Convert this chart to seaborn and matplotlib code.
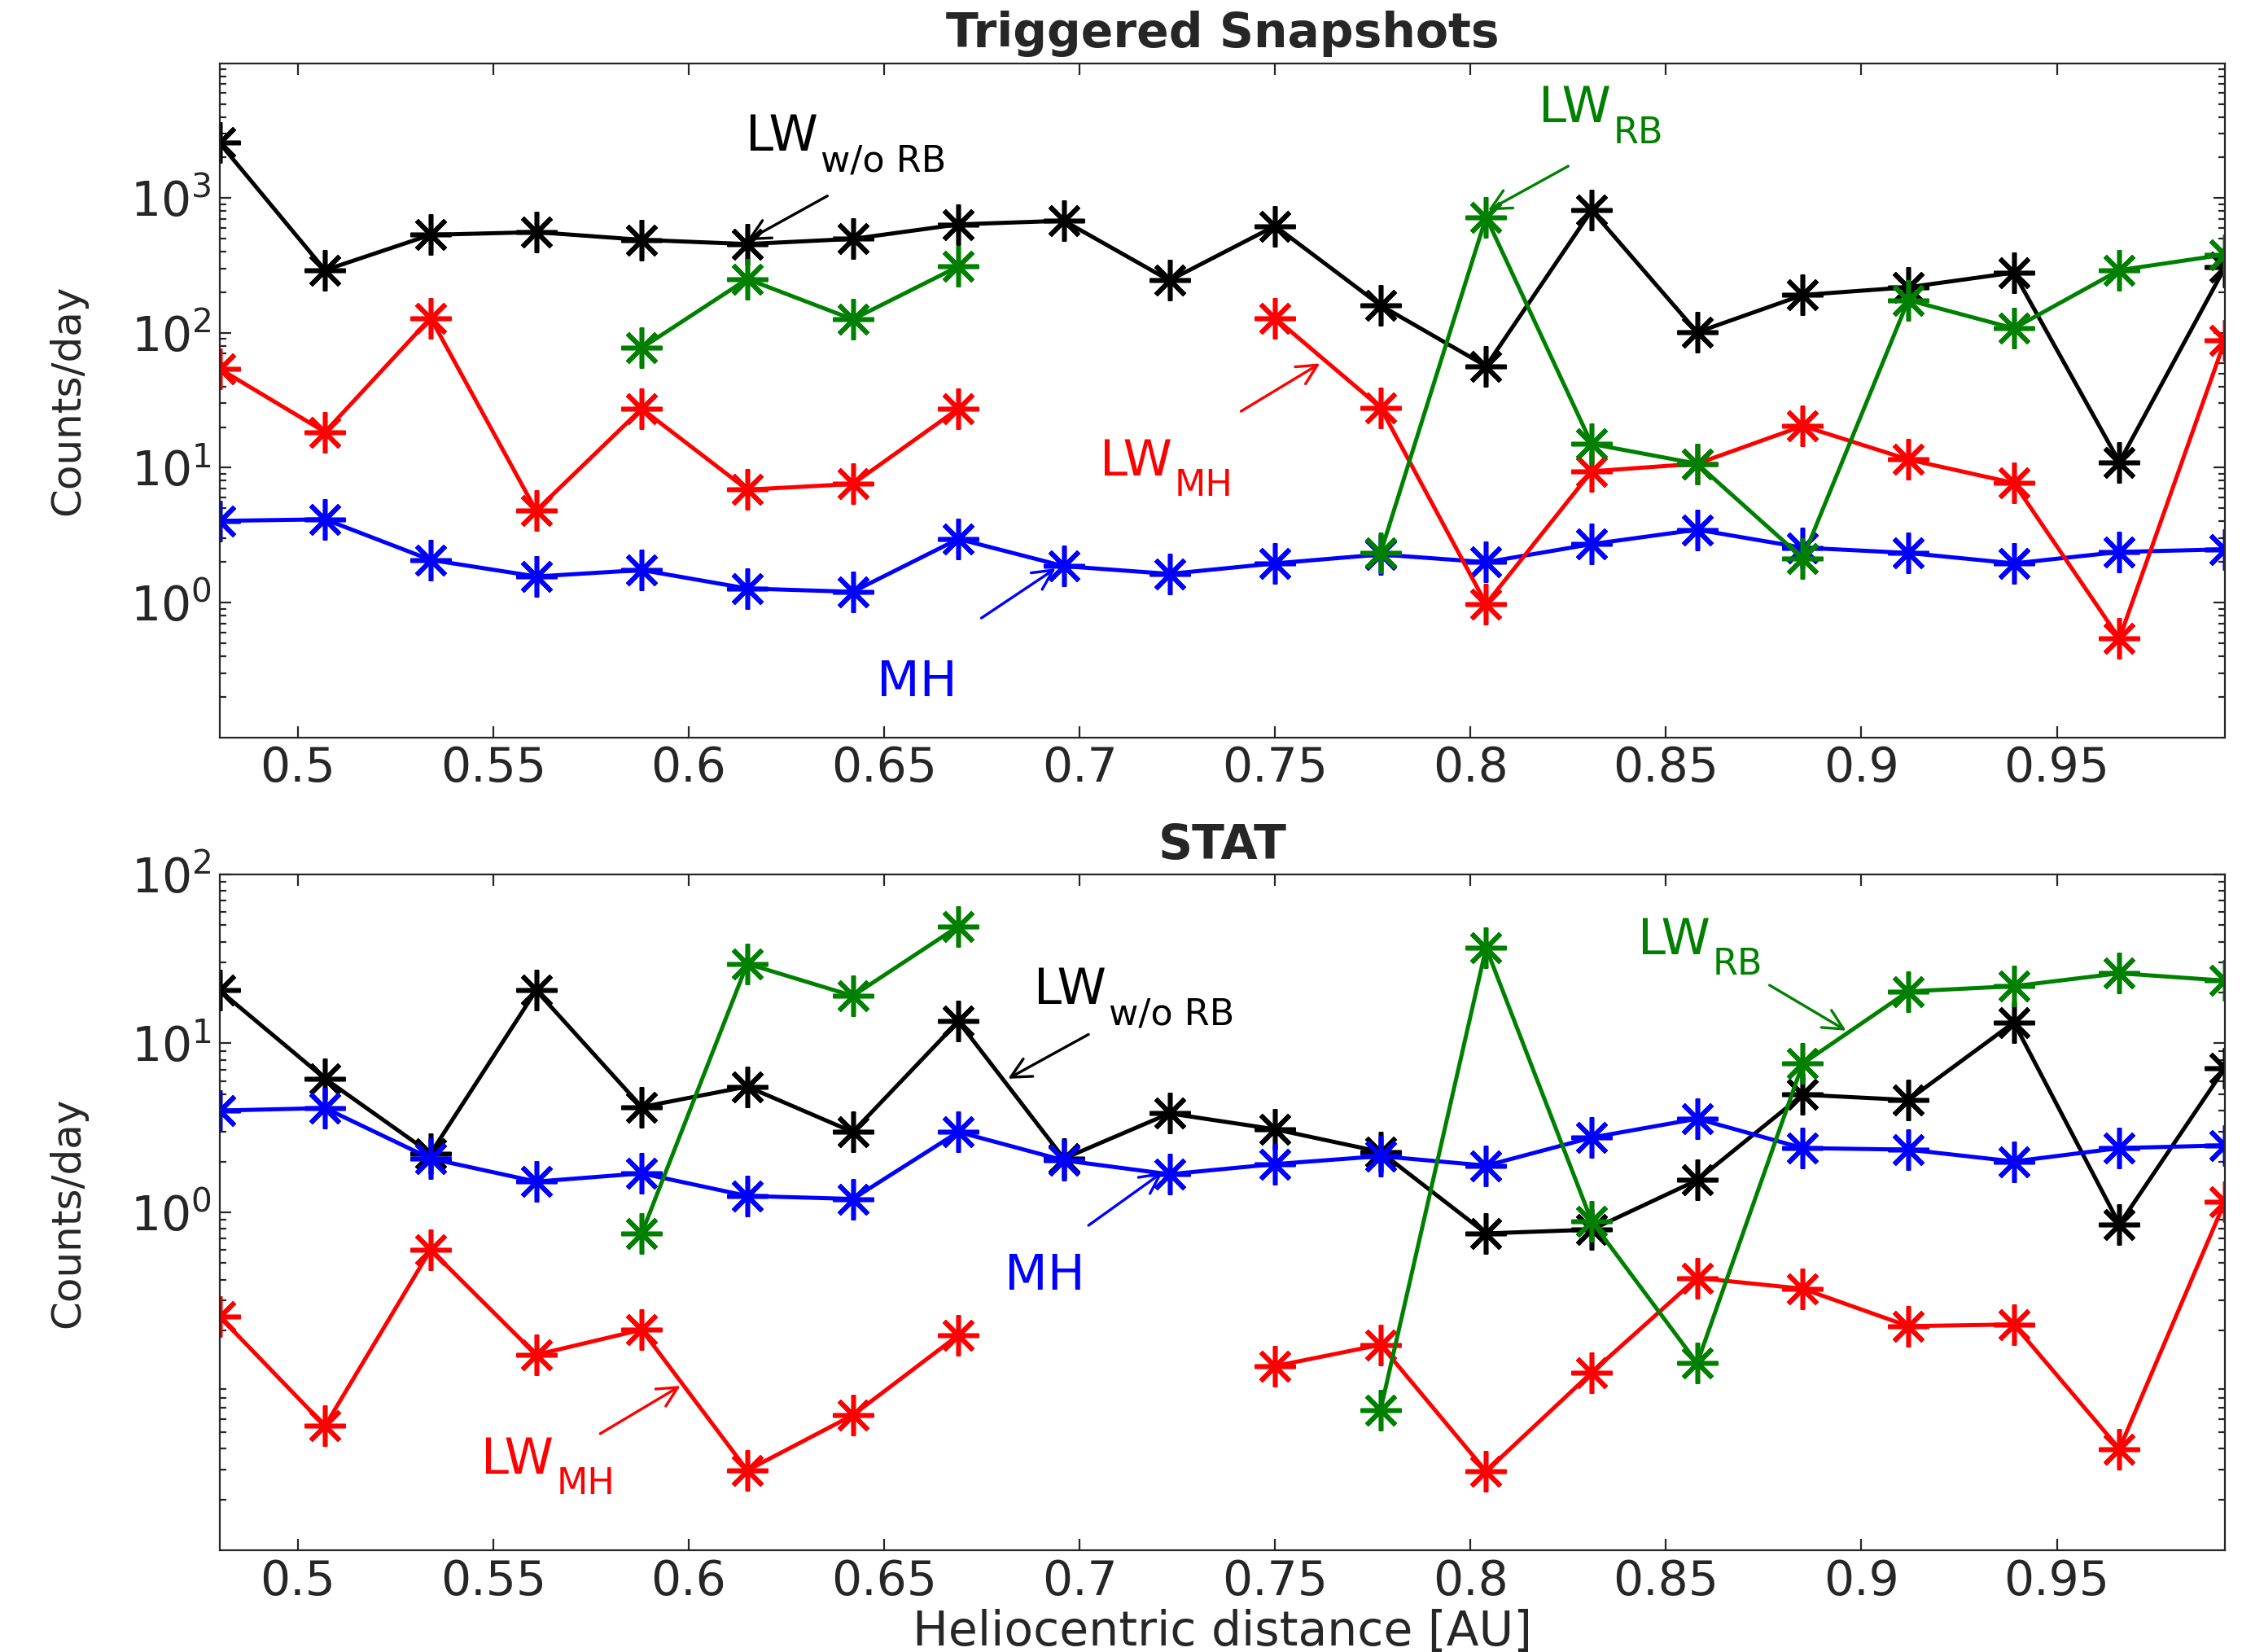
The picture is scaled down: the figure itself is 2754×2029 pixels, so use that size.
import numpy as np
import pandas as pd
import matplotlib
matplotlib.use("Agg")
import matplotlib.pyplot as plt
import seaborn as sns
from matplotlib.ticker import FormatStrFormatter, NullFormatter, NullLocator

nan = np.nan

# heliocentric distance bins [AU]
x_au = [0.480, 0.507, 0.534, 0.561, 0.588, 0.615, 0.642, 0.669, 0.696, 0.723,
        0.750, 0.777, 0.804, 0.831, 0.858, 0.885, 0.912, 0.939, 0.966, 0.993]

# Triggered Snapshots (counts/day)
trig_lw_wo_rb = [2570, 292, 534, 559, 490, 456, 498, 638, 679, 245,
                 621, 160, 56.7, 811, 101, 191, 218, 280, 11.0, 306]
trig_mh = [4.03, 4.14, 2.07, 1.56, 1.74, 1.27, 1.20, 2.96, 1.86, 1.63,
           1.95, 2.27, 1.99, 2.71, 3.47, 2.55, 2.33, 1.95, 2.37, 2.48]
trig_lw_mh = [54.2, 18.4, 129, 4.8, 27.4, 6.87, 7.57, 27.4, nan, nan,
              129, 27.9, 0.976, 9.4, 10.7, 20.4, 11.5, 7.7, 0.54, 88]
trig_lw_rb = [nan, nan, nan, nan, 77.3, 251, 126, 311, nan, nan,
              nan, 2.33, 722, 15.0, 10.7, 2.13, 175, 108, 292, 381]

# STAT (counts/day)
stat_lw_wo_rb = [20.6, 6.18, 2.23, 20.6, 4.2, 5.55, 2.99, 13.5, 2.08, 3.85,
                 3.1, 2.28, 0.75, 0.79, 1.55, 4.97, 4.62, 13.3, 0.85, 7.15]
stat_mh = [4.0, 4.14, 2.08, 1.52, 1.70, 1.25, 1.20, 2.99, 2.03, 1.68,
           1.93, 2.15, 1.89, 2.77, 3.58, 2.40, 2.35, 2.0, 2.40, 2.49]
stat_lw_mh = [0.242, 0.0544, 0.601, 0.1435, 0.202, 0.0297, 0.063, 0.1876, nan, nan,
              0.123, 0.1645, 0.0293, 0.1127, 0.409, 0.353, 0.212, 0.217, 0.0398, 1.16]
stat_lw_rb = [nan, nan, nan, nan, 0.75, 29.6, 19.1, 49.3, nan, nan,
              nan, 0.0677, 36.8, 0.885, 0.128, 7.59, 20.3, 21.8, 26.0, 23.5]

x_ticks = [0.5, 0.55, 0.6, 0.65, 0.7, 0.75, 0.8, 0.85, 0.9, 0.95]

BLACK, BLUE, RED, GREEN = "black", "#0000ff", "#ff0000", "#008000"

sns.set_style("ticks", {"xtick.direction": "in", "ytick.direction": "in"})
plt.rcParams["font.family"] = ["DejaVu Sans"]
plt.rcParams["axes.edgecolor"] = "#262626"
plt.rcParams["xtick.color"] = "#262626"
plt.rcParams["ytick.color"] = "#262626"
plt.rcParams["text.color"] = "#262626"
plt.rcParams["axes.labelcolor"] = "#262626"


def long_form(values):
    # split the series into contiguous runs so that gaps stay empty
    v = np.asarray(values, dtype=float)
    ok = ~np.isnan(v)
    seg = np.cumsum(~ok)
    return pd.DataFrame({"x": np.asarray(x_au)[ok], "y": v[ok], "seg": seg[ok]})


def draw_series(ax, values, color):
    sns.lineplot(data=long_form(values), x="x", y="y", units="seg", estimator=None,
                 color=color, linewidth=1.8, marker=(8, 2, 0), markersize=18,
                 markeredgewidth=2.0, markeredgecolor=color, ax=ax)


def label_arrow(ax, main, sub, color, text_xy, tail, head):
    t = ax.text(text_xy[0], text_xy[1], main, color=color, fontsize=22,
                ha="left", va="baseline")
    if sub:
        # subscript hung off the lower right corner of the main text
        ax.annotate(sub, xy=(1.0, 0.0), xycoords=t, xytext=(1, -4.5),
                    textcoords="offset points", color=color, fontsize=16,
                    ha="left", va="baseline")
    ax.annotate("", xy=head, xytext=tail,
                arrowprops=dict(arrowstyle="->", color=color, lw=1.2,
                                mutation_scale=22, shrinkA=0, shrinkB=0))


def style_axes(ax, ylim, yticks, title):
    ax.set_yscale("log")
    ax.set_xlim(0.48, 0.993)
    ax.set_ylim(*ylim)
    ax.set_xticks(x_ticks)
    ax.xaxis.set_major_formatter(FormatStrFormatter("%g"))
    ax.xaxis.set_minor_locator(NullLocator())
    ax.set_yticks(yticks)
    ax.yaxis.set_minor_formatter(NullFormatter())
    ax.tick_params(which="both", direction="in", top=True, right=True,
                   labelsize=21, width=0.8)
    ax.tick_params(which="major", length=5)
    ax.tick_params(which="minor", length=3)
    for s in ax.spines.values():
        s.set_linewidth(0.8)
    ax.set_title(title, fontsize=21, fontweight="bold", pad=7)
    ax.set_xlabel("")
    ax.set_ylabel("Counts/day", fontsize=18)
    ax.yaxis.set_label_coords(-0.066, 0.5)


fig = plt.figure(figsize=(13.77, 10.145), dpi=200)
ax1 = fig.add_axes([0.0979, 0.5537, 0.8945, 0.4080])
ax2 = fig.add_axes([0.0979, 0.0616, 0.8945, 0.4091])

# top panel
for vals, col in [(trig_lw_wo_rb, BLACK), (trig_mh, BLUE), (trig_lw_mh, RED), (trig_lw_rb, GREEN)]:
    draw_series(ax1, vals, col)
style_axes(ax1, (0.1, 1e4), [1, 10, 100, 1000], "Triggered Snapshots")
label_arrow(ax1, "LW", "w/o RB", BLACK, (0.6146, 2245), (0.6355, 1037), (0.6150, 486))
label_arrow(ax1, "LW", "RB", GREEN, (0.8175, 3655), (0.825, 1725), (0.8045, 811))
label_arrow(ax1, "LW", "MH", RED, (0.7051, 8.81), (0.7413, 26.2), (0.7615, 59.3))
label_arrow(ax1, "MH", "", BLUE, (0.6482, 0.202), (0.6749, 0.767), (0.6939, 1.79))

# bottom panel
for vals, col in [(stat_lw_wo_rb, BLACK), (stat_mh, BLUE), (stat_lw_mh, RED), (stat_lw_rb, GREEN)]:
    draw_series(ax2, vals, col)
style_axes(ax2, (0.01, 100), [1, 10, 100], "STAT")
label_arrow(ax2, "LW", "w/o RB", BLACK, (0.6883, 17.1), (0.7023, 11.3), (0.6817, 6.18))
label_arrow(ax2, "LW", "RB", GREEN, (0.8428, 33.7), (0.8765, 22.1), (0.8961, 11.9))
label_arrow(ax2, "MH", "", BLUE, (0.6808, 0.348), (0.7023, 0.837), (0.7213, 1.73))
label_arrow(ax2, "LW", "MH", RED, (0.547, 0.0284), (0.5774, 0.049), (0.5979, 0.094))
ax2.set_xlabel("Heliocentric distance [AU]", fontsize=21, labelpad=2)

fig.savefig("out.png", dpi=200)
